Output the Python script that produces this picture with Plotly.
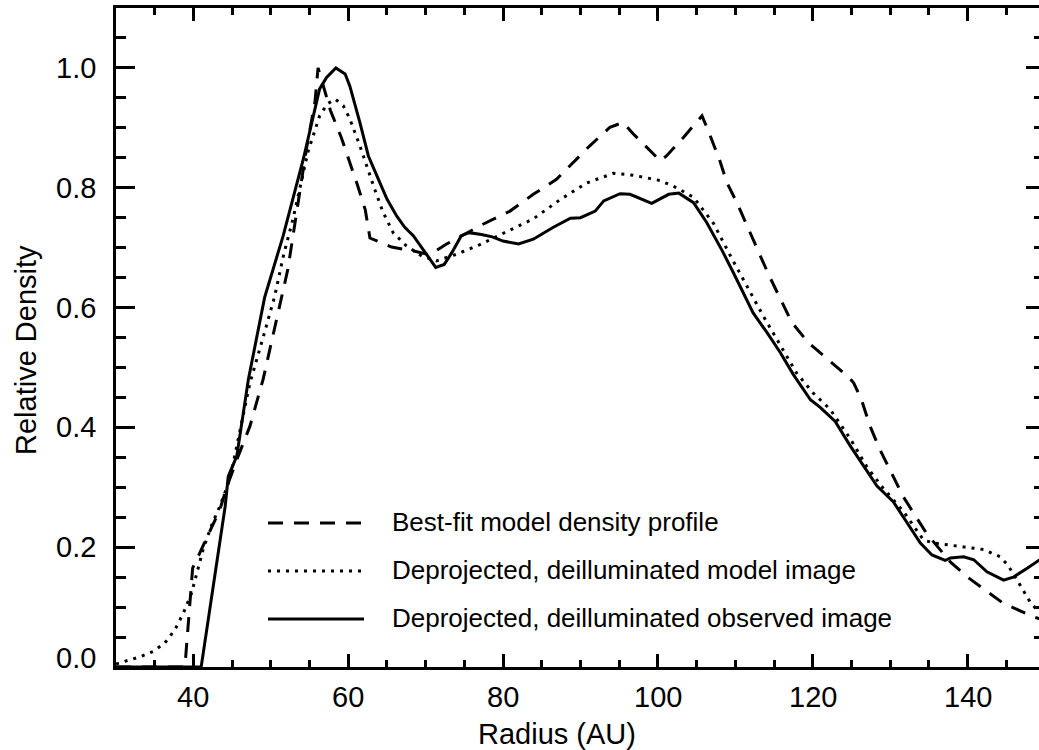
import plotly.graph_objects as go

# ---- data ----
obs_x = [30, 41.0, 44.1, 44.5, 45.6, 47.1, 49.2, 51.6, 54.2, 56.3, 57.2, 58.4, 59.6, 60.2,
         61.5, 62.6, 63.9, 65.0, 66.25, 67.3, 68.4, 69.7, 71.3, 72.4, 73.4, 74.6, 75.6, 77.2,
         78.6, 80.0, 82.0, 83.9, 86.5, 88.7, 90.0, 91.9, 93.0, 95.1, 96.4, 99.2, 101.4, 102.7,
         103.7, 104.6, 106.3, 108.3, 109.75, 111.05, 112.3, 114.1, 115.8, 117.5, 119.7, 121.0,
         122.9, 124.8, 126.6, 128.3, 130.4, 132.2, 133.9, 135.4, 137.1, 137.8, 139.5, 140.8,
         142.5, 144.65, 145.9, 147.7, 150]
obs_y = [0, 0, 0.268, 0.318, 0.352, 0.48, 0.617, 0.72, 0.848, 0.965, 0.984, 1.0, 0.99, 0.97,
         0.909, 0.853, 0.814, 0.781, 0.753, 0.734, 0.72, 0.697, 0.667, 0.672, 0.692, 0.72, 0.725, 0.722,
         0.718, 0.711, 0.706, 0.714, 0.734, 0.749, 0.750, 0.761, 0.778, 0.790, 0.789, 0.774, 0.789, 0.791,
         0.782, 0.775, 0.742, 0.695, 0.658, 0.625, 0.591, 0.558, 0.525, 0.488, 0.446, 0.433,
         0.410, 0.370, 0.335, 0.302, 0.276, 0.240, 0.207, 0.187, 0.178, 0.182, 0.184, 0.179,
         0.159, 0.145, 0.150, 0.165, 0.185]

fit_x = [30, 38.9, 39.9, 41.0, 42.3, 43.4, 44.3, 45.6, 47.3, 49.0, 52.2, 53.3, 54.6, 55.7, 56.1,
         57.7, 59.1, 61.2, 62.2, 62.8, 65.6, 68.6, 70.5, 72.7, 77.4, 80.9, 83.9, 86.9, 89.1, 91.2,
         93.8, 95.5, 96.8, 98.6, 100.3, 101.1, 103.3, 105.7, 106.6, 108.0, 108.9, 110.2, 111.8,
         114.3, 117.3, 119.45, 122.0, 124.7, 125.3, 126.3, 127.4, 128.6, 131.7, 134.75, 137.8,
         140.0, 142.1, 144.65, 148.5, 150]
fit_y = [0, 0, 0.165, 0.195, 0.232, 0.262, 0.300, 0.346, 0.402, 0.48, 0.664, 0.753, 0.865, 0.943, 1.0,
         0.929, 0.884, 0.804, 0.763, 0.716, 0.701, 0.694, 0.688, 0.706, 0.739, 0.761, 0.789, 0.814, 0.842, 0.870,
         0.901, 0.909, 0.890, 0.867, 0.845, 0.853, 0.884, 0.920, 0.892, 0.845, 0.809, 0.775, 0.728,
         0.655, 0.575, 0.541, 0.513, 0.483, 0.474, 0.446, 0.402, 0.365, 0.284, 0.222, 0.175,
         0.150, 0.130, 0.106, 0.084, 0.077]

mod_x = [30, 31.1, 33.1, 34.8, 36.3, 37.6, 38.7, 39.75, 40.6, 41.25, 42.3, 43.4, 44.7, 45.6, 46.4,
         47.3, 49.0, 50.5, 51.6, 52.9, 54.8, 56.3, 57.3, 58.3, 59.35, 60.2, 61.5, 62.4, 63.4, 64.5,
         65.8, 67.5, 69.5, 71.4, 74.0, 77.0, 80.5, 83.9, 87.35, 90.8, 94.25, 96.8, 100.3, 102.4,
         104.6, 107.2, 109.5, 111.9, 113.6, 117.9, 120.0, 122.25, 124.8, 127.0, 129.0, 131.7,
         134.3, 135.6, 137.8, 140.0, 142.1, 144.2, 145.2, 146.4, 148.1, 149.0, 150]
mod_y = [0.005, 0.009, 0.017, 0.026, 0.040, 0.062, 0.090, 0.123, 0.162, 0.196, 0.235, 0.268, 0.313, 0.368, 0.413,
         0.474, 0.55, 0.619, 0.685, 0.75, 0.86, 0.920, 0.940, 0.948, 0.937, 0.915, 0.870, 0.834, 0.798, 0.759,
         0.725, 0.703, 0.686, 0.678, 0.689, 0.705, 0.727, 0.748, 0.78, 0.808, 0.824, 0.821, 0.812, 0.800,
         0.784, 0.740, 0.683, 0.625, 0.586, 0.491, 0.458, 0.430, 0.382, 0.334, 0.300, 0.26,
         0.212, 0.207, 0.203, 0.199, 0.196, 0.184, 0.170, 0.145, 0.108, 0.095, 0.09]

x_tickvals = [40, 60, 80, 100, 120, 140]
x_ticktext = ["40", "60", "80", "100", "120", "140"]
y_tickvals = [0.0, 0.2, 0.4, 0.6, 0.8, 1.0]
y_ticktext = ["0.0", "0.2", "0.4", "0.6", "0.8", "1.0"]
x_title = "Radius (AU)"
y_title = "Relative Density"
legend_labels = ["Best-fit model density profile",
                 "Deprojected, deilluminated model image",
                 "Deprojected, deilluminated observed image"]

FONT = "Liberation Sans, Arial, Helvetica, sans-serif"
W, H = 1039, 750
L, R, T, B = 116, 0, 8, 83
PW, PH = W - L - R, H - T - B
# the reference frame extends ~6 px past the right edge of the picture
X_LEFT, X_RIGHT_FULL = 30, 150
PX_PER_UNIT = (PW + 6) / (X_RIGHT_FULL - X_LEFT)
X_RIGHT_VISIBLE = X_LEFT + PW / PX_PER_UNIT


def px(x):
    return (x - L) / PW


def py(y):
    return (H - B - y) / PH


fig = go.Figure()
fig.add_trace(go.Scatter(x=fit_x, y=fit_y, mode="lines", showlegend=False,
                         line=dict(color="black", width=3, dash="15px,11px")))
fig.add_trace(go.Scatter(x=mod_x, y=mod_y, mode="lines", showlegend=False,
                         line=dict(color="black", width=3, dash="3px,6px")))
fig.add_trace(go.Scatter(x=obs_x, y=obs_y, mode="lines", showlegend=False,
                         line=dict(color="black", width=3)))
# invisible trace to activate the right-hand tick axis
fig.add_trace(go.Scatter(x=[X_LEFT], y=[0], yaxis="y2", mode="markers",
                         marker=dict(opacity=0), showlegend=False, hoverinfo="skip"))

# manual legend
styles = ["15px,11px", "3px,6px", "solid"]
rows = [523, 571, 619]
for lab, st, ry in zip(legend_labels, styles, rows):
    fig.add_shape(type="line", xref="paper", yref="paper",
                  x0=px(268), x1=px(364), y0=py(ry), y1=py(ry),
                  line=dict(color="black", width=3, dash=st))
    fig.add_annotation(xref="paper", yref="paper", x=px(390), y=py(ry - 1),
                       text=lab, showarrow=False, xanchor="left", yanchor="middle",
                       font=dict(family=FONT, size=26, color="black"))

TICKFONT = dict(family=FONT, size=29, color="black")

# y tick labels: the one at 0.0 sits a little above its tick, as in the reference
for v, t in zip(y_tickvals, y_ticktext):
    fig.add_annotation(xref="paper", yref="y", x=px(98), y=v, yshift=(9 if v == 0 else 0),
                       text=t, showarrow=False, xanchor="right", yanchor="middle",
                       font=TICKFONT)
# x tick labels
for v, t in zip(x_tickvals, x_ticktext):
    fig.add_annotation(xref="x", yref="paper", x=v, y=py(697),
                       text=t, showarrow=False, xanchor="center", yanchor="middle",
                       font=TICKFONT)

# axis titles
fig.add_annotation(xref="paper", yref="paper", x=px(557), y=py(734), text=x_title,
                   showarrow=False, xanchor="center", yanchor="middle",
                   font=dict(family=FONT, size=29, color="black"))
fig.add_annotation(xref="paper", yref="paper", x=px(26), y=py(350), text=y_title,
                   textangle=-90, showarrow=False, xanchor="center", yanchor="middle",
                   font=dict(family=FONT, size=29, color="black"))

fig.update_layout(
    width=W, height=H, autosize=False,
    margin=dict(l=L, r=R, t=T, b=B, pad=0),
    paper_bgcolor="white", plot_bgcolor="white",
    font=dict(family=FONT, size=27, color="black"),
    xaxis=dict(range=[X_LEFT, X_RIGHT_VISIBLE], tick0=0, dtick=20,
               showticklabels=False,
               showline=True, linecolor="black", linewidth=3, mirror="ticks",
               ticks="inside", ticklen=13, tickwidth=2.5, tickcolor="black",
               minor=dict(ticks="inside", ticklen=7, dtick=5, tick0=30,
                          tickcolor="black", tickwidth=2.5, showgrid=False),
               showgrid=False, zeroline=False),
    yaxis=dict(range=[0, 1.1], tickmode="array", tickvals=y_tickvals,
               showticklabels=False,
               showline=True, linecolor="black", linewidth=3, mirror=False,
               ticks="inside", ticklen=19, tickwidth=2.5, tickcolor="black",
               minor=dict(ticks="inside", ticklen=10, dtick=0.05, tick0=0,
                          tickcolor="black", tickwidth=2.5, showgrid=False),
               showgrid=False, zeroline=False),
    yaxis2=dict(range=[0, 1.1], overlaying="y", side="right", tick0=0, dtick=0.2,
                showline=False, showticklabels=False,
                ticks="inside", ticklen=13, tickwidth=2.5, tickcolor="black",
                minor=dict(ticks="inside", ticklen=5, dtick=0.05, tick0=0,
                           tickcolor="black", tickwidth=2.5, showgrid=False),
                showgrid=False, zeroline=False),
)

fig.write_html("out.html", config={"displayModeBar": False},
               post_script="document.body.style.margin='0';document.body.style.overflow='hidden';")
